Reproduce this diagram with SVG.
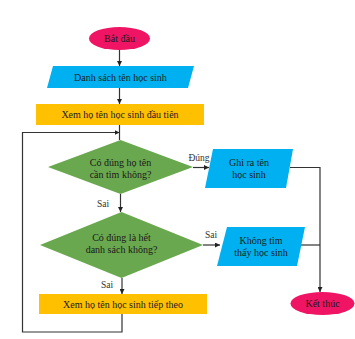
<svg xmlns="http://www.w3.org/2000/svg" width="355" height="339" viewBox="0 0 355 339">
<style>
text{font-family:"Liberation Serif","Times New Roman",serif;font-size:10px;fill:#1a1a1a;text-anchor:middle}
.lbl{font-size:9.5px;fill:#333}
.term{fill:#ef1464}
.io{fill:#00b0f0}
.proc{fill:#ffc000}
.dec{fill:#6aa84f}
.ln{stroke:#333;stroke-width:1.2;fill:none}
</style>
<defs>
<marker id="ah" viewBox="0 0 6 6" refX="6" refY="3" markerWidth="5" markerHeight="5" orient="auto" markerUnits="userSpaceOnUse">
<path d="M0,0 L6,3 L0,6 z" fill="#222"/>
</marker>
</defs>
<rect width="355" height="339" fill="#fff"/>
<g id="connectors">
<line class="ln" x1="119.5" y1="50" x2="119.5" y2="66" marker-end="url(#ah)"/>
<line class="ln" x1="119.5" y1="88" x2="119.5" y2="104" marker-end="url(#ah)"/>
<line class="ln" x1="119.5" y1="125" x2="119.5" y2="140"/>
<polyline class="ln" points="122,314 122,332 22.5,332 22.5,132.5 119.5,132.5" marker-end="url(#ah)"/>
<line class="ln" x1="193" y1="167.5" x2="209" y2="167.5" marker-end="url(#ah)"/>
<polyline class="ln" points="290,167.5 320,167.5 320,292" marker-end="url(#ah)"/>
<line class="ln" x1="120.5" y1="194" x2="120.5" y2="212" marker-end="url(#ah)"/>
<line class="ln" x1="203" y1="245" x2="220" y2="245" marker-end="url(#ah)"/>
<line class="ln" x1="300" y1="245" x2="320" y2="245"/>
<line class="ln" x1="122" y1="278" x2="122" y2="294" marker-end="url(#ah)"/>
<text class="lbl" x="199" y="161">Đúng</text>
<text class="lbl" x="103" y="207">Sai</text>
<text class="lbl" x="211" y="238">Sai</text>
<text class="lbl" x="107" y="288">Sai</text>
</g>
<g id="start">
<ellipse class="term" cx="119.5" cy="38.5" rx="30.5" ry="11.5"/>
<text x="119.5" y="42">Bắt đầu</text>
</g>
<g id="list">
<polygon class="io" points="53,66 194,66 188,88 47,88"/>
<text x="120.5" y="80.5">Danh sách tên học sinh</text>
</g>
<g id="first">
<rect class="proc" x="36" y="104" width="168" height="21"/>
<text x="120" y="118">Xem họ tên học sinh đầu tiên</text>
</g>
<g id="dec1">
<polygon class="dec" points="120.5,140 193,167 120.5,194 48,167"/>
<text x="120.5" y="166">Có đúng họ tên</text>
<text x="120.5" y="178">cần tìm không?</text>
</g>
<g id="write">
<polygon class="io" points="213,149 293,149 286,188 205,188"/>
<text x="249" y="166">Ghi ra tên</text>
<text x="249" y="178">học sinh</text>
</g>
<g id="dec2">
<polygon class="dec" points="121.5,212 203,245 121.5,278 40,245"/>
<text x="121.5" y="241">Có đúng là hết</text>
<text x="121.5" y="253">danh sách không?</text>
</g>
<g id="notfound">
<polygon class="io" points="227,227 305,227 297,266 217,266"/>
<text x="261" y="244">Không tìm</text>
<text x="261" y="256">thấy học sinh</text>
</g>
<g id="next">
<rect class="proc" x="39" y="294" width="168" height="20"/>
<text x="123" y="307.5">Xem họ tên học sinh tiếp theo</text>
</g>
<g id="end">
<ellipse class="term" cx="322.5" cy="303.5" rx="32" ry="11.5"/>
<text x="322.5" y="307">Kết thúc</text>
</g>
</svg>
